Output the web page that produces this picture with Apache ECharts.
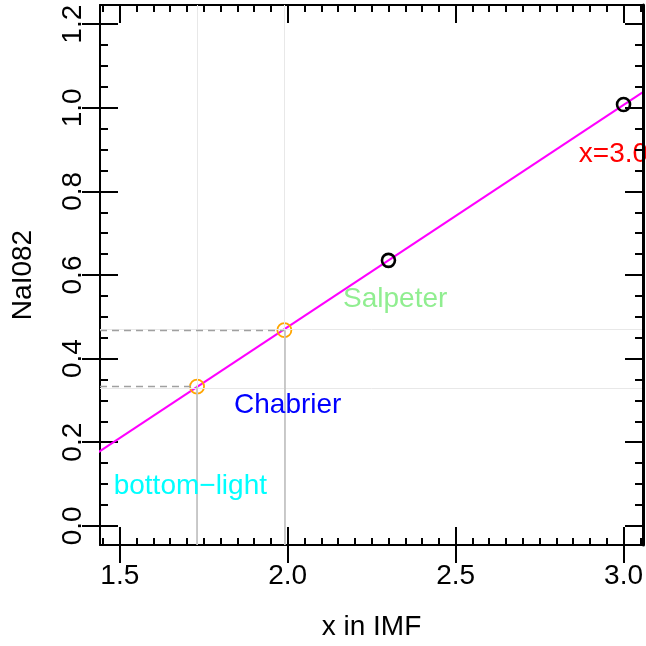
<!DOCTYPE html>
<html>
<head>
<meta charset="utf-8">
<script src="https://cdn.jsdelivr.net/npm/echarts@6/dist/echarts.min.js"></script>
<style>html,body{margin:0;padding:0;background:#fff;}#c{width:646px;height:646px;}</style>
</head>
<body>
<div id="c"></div>
<script>
// ---- data ----
const xMajorTicks = [1.5, 2.0, 2.5, 3.0];
const yMajorTicks = [0.0, 0.2, 0.4, 0.6, 0.8, 1.0, 1.2];
const refX = [1.73, 1.99];          // orange reference points (x)
const refY = [0.333, 0.468];        // orange reference points (y)
const modelX = [2.3, 3.0];          // black model points (x)
const modelY = [0.635, 1.008];      // black model points (y)
const fitX = [1.40, 3.10];          // magenta relation, end points
const fitY = [0.157, 1.060];
const labelText = ['bottom\u2212light', 'Chabrier', 'Salpeter', 'x=3.0'];
const labelX = [1.71, 2.00, 2.32, 2.97];
const labelY = [0.095, 0.288, 0.543, 0.889];
const labelColor = ['#00FFFF', '#0000FF', '#90EE90', '#FF0000'];

const X_MIN = 1.441, X_MAX = 3.058, Y_MIN = -0.046, Y_MAX = 1.246;
const xMinorTicks = []; for (let i = 29; i <= 61; i++) xMinorTicks.push(i * 0.05);
const yMinorTicks = []; for (let i = 0; i <= 24; i++) yMinorTicks.push(i * 0.05);

const FONT = 'Liberation Sans, Arial, Helvetica, sans-serif';
const FS = 28;
const black = '#000';

function xAx(pos, vals, len, inside, extra) {
  return Object.assign({
    type: 'value', position: pos, min: X_MIN, max: X_MAX,
    axisLine: { show: false, onZero: false },
    axisTick: { show: true, customValues: vals, length: len, inside: inside, lineStyle: { color: black, width: 2 } },
    axisLabel: { show: false }, splitLine: { show: false }
  }, extra || {});
}
function yAx(pos, vals, len, inside, extra) {
  return Object.assign({
    type: 'value', position: pos, min: Y_MIN, max: Y_MAX,
    axisLine: { show: false, onZero: false },
    axisTick: { show: true, customValues: vals, length: len, inside: inside, lineStyle: { color: black, width: 2 } },
    axisLabel: { show: false }, splitLine: { show: false }
  }, extra || {});
}

const chart = echarts.init(document.getElementById('c'), null, { renderer: 'canvas' });
const option = {
  animation: false,
  backgroundColor: '#fff',
  textStyle: { fontFamily: FONT },
  grid: { left: 100, top: 5, right: 2, bottom: 98, containLabel: false },
  xAxis: [
    xAx('bottom', xMajorTicks, 18, false, {
      axisLine: { show: true, onZero: false, lineStyle: { color: black, width: 2 } },
      axisLabel: { show: true, customValues: xMajorTicks, formatter: v => v.toFixed(1), fontSize: FS, color: black, fontFamily: FONT, margin: 17 },
      name: 'x in IMF', nameLocation: 'middle', nameGap: 68,
      nameTextStyle: { fontSize: FS, color: black, fontFamily: FONT }
    }),
    xAx('bottom', xMajorTicks, 18, true),
    xAx('bottom', xMinorTicks, 7, true),
    xAx('top', xMajorTicks, 18, true, { axisLine: { show: true, onZero: false, lineStyle: { color: black, width: 2 } } }),
    xAx('top', xMinorTicks, 7, true)
  ],
  yAxis: [
    yAx('left', yMajorTicks, 18, false, {
      axisLine: { show: true, onZero: false, lineStyle: { color: black, width: 2 } },
      axisLabel: { show: true, customValues: yMajorTicks, formatter: v => v.toFixed(1), fontSize: FS, color: black, fontFamily: FONT, rotate: 90, margin: 13 },
      name: 'NaI082', nameLocation: 'middle', nameGap: 63, nameRotate: 90,
      nameTextStyle: { fontSize: FS, color: black, fontFamily: FONT }
    }),
    yAx('left', yMajorTicks, 18, true),
    yAx('left', yMinorTicks, 8, true),
    yAx('right', yMajorTicks, 18, true, { z: 20, axisLine: { show: true, onZero: false, lineStyle: { color: black, width: 3 } } }),
    yAx('right', yMinorTicks, 8, true, { z: 20 })
  ],
  series: [
    { // faint full-width reference lines
      type: 'line', data: [], silent: true, z: 1,
      markLine: {
        silent: true, symbol: 'none', label: { show: false },
        lineStyle: { color: '#E8E8E8', width: 1, type: 'solid' },
        data: refX.map(x => ({ xAxis: x })).concat(refY.map(y => ({ yAxis: y })))
      }
    },
    { // dashed horizontal from left edge to point
      type: 'line', data: [], silent: true, z: 2,
      markLine: {
        silent: true, symbol: 'none', label: { show: false },
        lineStyle: { color: '#A0A0A0', width: 1.4, type: [7, 5] },
        data: refX.map((x, i) => [{ coord: [X_MIN, refY[i]] }, { coord: [x, refY[i]] }])
      }
    },
    { // solid vertical from point to bottom
      type: 'line', data: [], silent: true, z: 2,
      markLine: {
        silent: true, symbol: 'none', label: { show: false },
        lineStyle: { color: '#BEBEBE', width: 1.6, type: 'solid' },
        data: refX.map((x, i) => [{ coord: [x, refY[i]] }, { coord: [x, Y_MIN] }])
      }
    },
    {
      type: 'line', z: 3, data: fitX.map((x, i) => [x, fitY[i]]),
      showSymbol: false, clip: true,
      lineStyle: { color: '#FF00FF', width: 2 }
    },
    {
      type: 'scatter', z: 4, data: refX.map((x, i) => [x, refY[i]]),
      symbol: 'circle', symbolSize: 14,
      itemStyle: { color: 'rgba(0,0,0,0)', borderColor: '#FFA500', borderWidth: 1.8, opacity: 1 }
    },
    {
      type: 'scatter', z: 4, data: modelX.map((x, i) => [x, modelY[i]]),
      symbol: 'circle', symbolSize: 13,
      itemStyle: { color: 'rgba(0,0,0,0)', borderColor: '#000', borderWidth: 2.6, opacity: 1 }
    },
    {
      type: 'scatter', z: 5, symbolSize: 1, clip: false,
      itemStyle: { color: 'rgba(0,0,0,0)', opacity: 1 },
      data: labelText.map((t, i) => ({
        value: [labelX[i], labelY[i]],
        label: {
          show: true, position: 'inside', formatter: t, color: labelColor[i],
          fontSize: FS, fontFamily: FONT, align: 'center', verticalAlign: 'middle'
        }
      }))
    }
  ]
};
chart.setOption(option);
</script>
</body>
</html>
